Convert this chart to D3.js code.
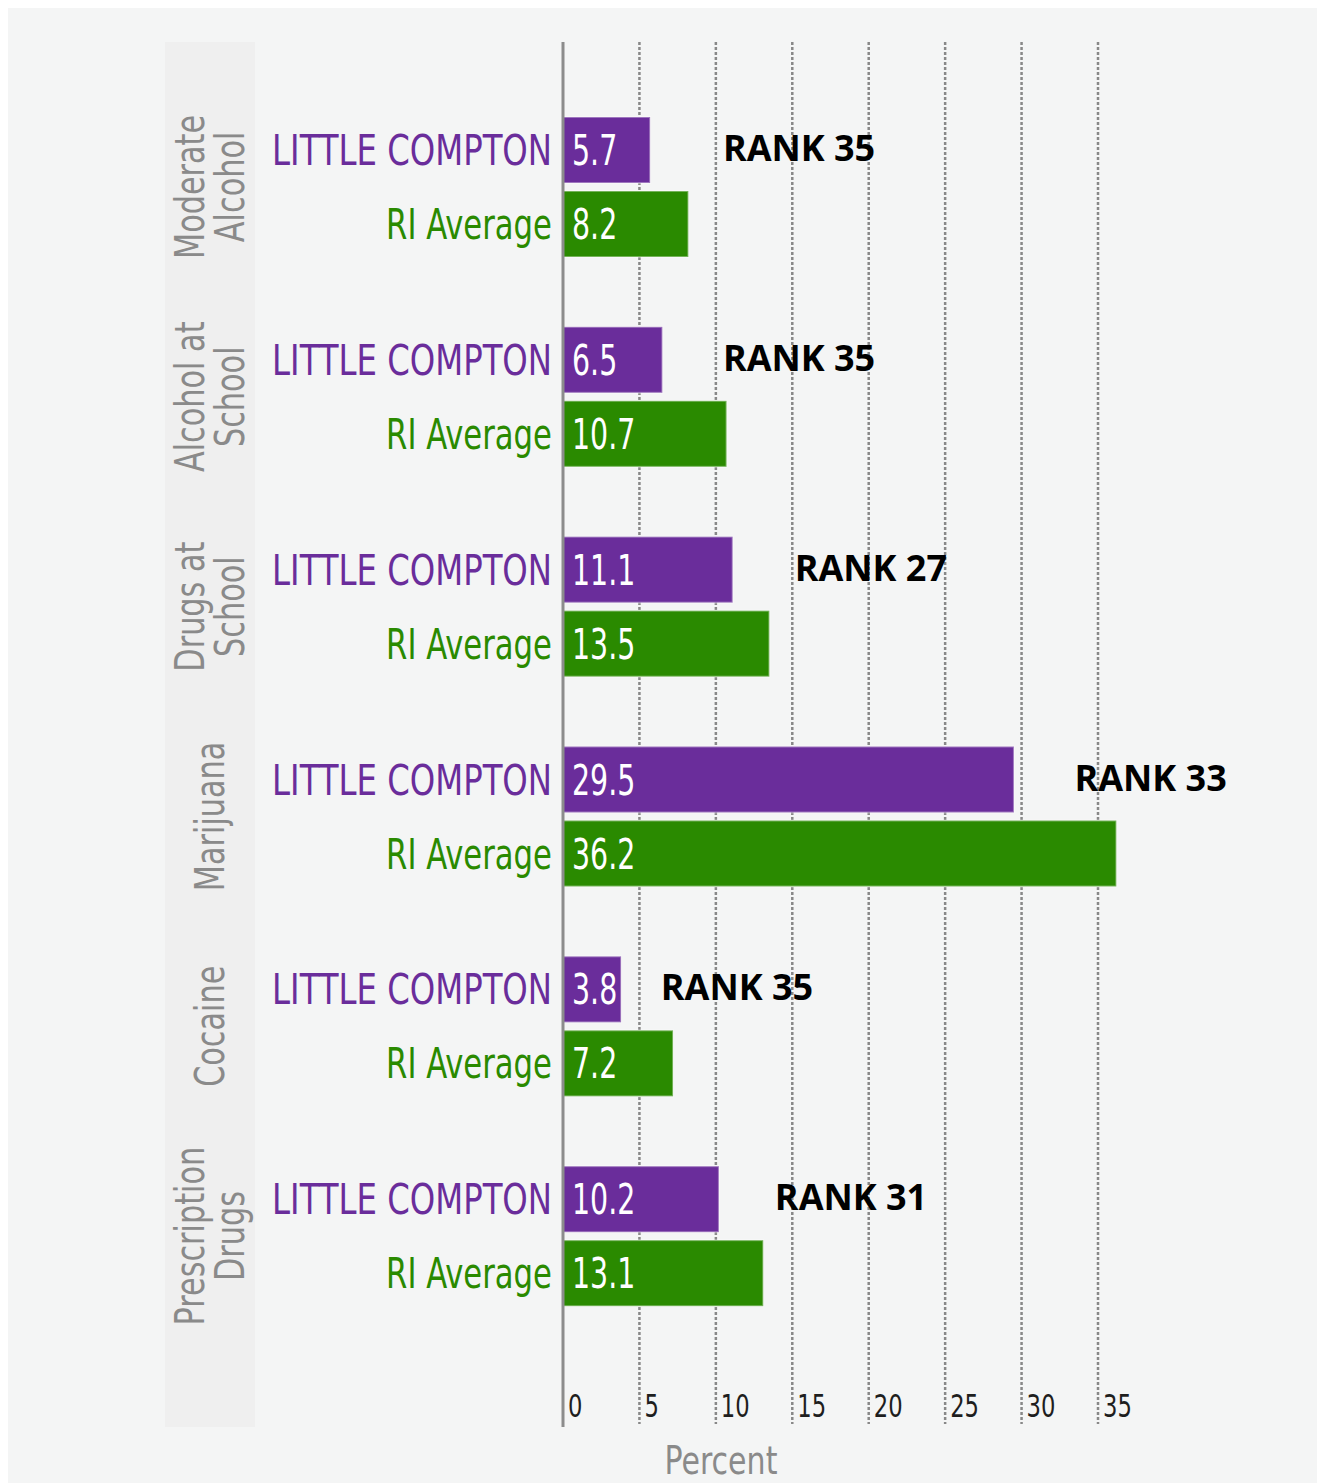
<!DOCTYPE html>
<html>
<head>
<meta charset="utf-8">
<script src="https://cdn.jsdelivr.net/npm/d3@7"></script>
<style>
  html, body { margin: 0; padding: 0; background: #ffffff; }
  svg { display: block; }
</style>
</head>
<body>
<script>
// ---- data ----
const categories = [
  ["Moderate", "Alcohol"],
  ["Alcohol at", "School"],
  ["Drugs at", "School"],
  ["Marijuana"],
  ["Cocaine"],
  ["Prescription", "Drugs"]
];
const seriesNames = ["LITTLE COMPTON", "RI Average"];
const littleCompton = [5.7, 6.5, 11.1, 29.5, 3.8, 10.2];
const riAverage = [8.2, 10.7, 13.5, 36.2, 7.2, 13.1];
const ranks = ["RANK 35", "RANK 35", "RANK 27", "RANK 33", "RANK 35", "RANK 31"];
// where each rank annotation starts, in axis (percent) units
const rankAnchor = [10.46, 10.46, 15.16, 33.46, 6.4, 13.86];
const tickValues = [0, 5, 10, 15, 20, 25, 30, 35];
const axisTitle = "Percent";

// ---- layout ----
const W = 1317, H = 1483;
const colors = { "LITTLE COMPTON": "#6a2d9b", "RI Average": "#2a8a00" };
const labelWidths = { "LITTLE COMPTON": 280, "RI Average": 166 };
const narrow = "'Liberation Sans Narrow', 'DejaVu Sans Condensed', 'Arial Narrow', sans-serif";

const svg = d3.select("body").append("svg").attr("width", W).attr("height", H);

function measure(txt, size) {
  const p = svg.append("text").attr("font-family", narrow).attr("font-size", size).text(txt);
  const w = p.node().getComputedTextLength();
  p.remove();
  return w;
}
// horizontal condensing factor so the narrow font matches the reference
const f = Math.min(1, 280 / measure("LITTLE COMPTON", 42));
const fit = {};
seriesNames.forEach(s => { fit[s] = Math.min(1, labelWidths[s] / measure(s, 42)); });

// panel background
svg.append("rect").attr("x", 8).attr("y", 8).attr("width", W - 8).attr("height", H - 8).attr("fill", "#f4f5f5");
// category band
svg.append("rect").attr("x", 165).attr("y", 42).attr("width", 90).attr("height", 1385).attr("fill", "#efefef");

const x = d3.scaleLinear().domain([0, 35]).range([563, 1098]);
const catKeys = categories.map((c, i) => i);
const y = d3.scaleBand().domain(catKeys).range([82, 1341]).paddingInner(0).paddingOuter(0);
const ySub = d3.scaleBand().domain(seriesNames).range([35, 175]).paddingInner(8 / 74).paddingOuter(0);

// gridlines (dotted)
svg.append("g").selectAll("line").data(tickValues.filter(t => t > 0)).join("line")
  .attr("x1", d => x(d)).attr("x2", d => x(d))
  .attr("y1", 42).attr("y2", 1424)
  .attr("stroke", "#888").attr("stroke-width", 2.5).attr("stroke-dasharray", "3,2");

// tick labels
svg.append("g").selectAll("text").data(tickValues).join("text")
  .attr("transform", d => `translate(${x(d) + 5},1417) scale(${f * 0.92},1)`)
  .attr("font-family", narrow).attr("font-size", 32).attr("fill", "#1e1e1e")
  .text(d => d);

// axis title
svg.append("text").attr("transform", `translate(721,1474) scale(${f},1)`).attr("text-anchor", "middle")
  .attr("font-family", narrow).attr("font-size", 39).attr("fill", "#8a8a8a").text(axisTitle);

// rows
const rows = [];
catKeys.forEach(i => {
  rows.push({ cat: i, series: seriesNames[0], value: littleCompton[i] });
  rows.push({ cat: i, series: seriesNames[1], value: riAverage[i] });
});

// bars
svg.append("g").selectAll("rect").data(rows).join("rect")
  .attr("x", x(0))
  .attr("y", d => y(d.cat) + ySub(d.series))
  .attr("width", d => x(d.value) - x(0))
  .attr("height", ySub.bandwidth())
  .attr("fill", d => colors[d.series])
  .attr("stroke", "rgba(255,255,255,0.35)").attr("stroke-width", 2);

// zero axis line
svg.append("line").attr("x1", x(0)).attr("x2", x(0)).attr("y1", 42).attr("y2", 1427)
  .attr("stroke", "#8c8c8c").attr("stroke-width", 3);

// series labels left of bars
svg.append("g").selectAll("text").data(rows).join("text")
  .attr("transform", d => `translate(${x(0) - 11},${y(d.cat) + ySub(d.series) + ySub.bandwidth() / 2 + 15}) scale(${fit[d.series]},1)`)
  .attr("text-anchor", "end")
  .attr("font-family", narrow).attr("font-size", 42)
  .attr("fill", d => colors[d.series])
  .text(d => d.series);

// value labels inside bars
svg.append("g").selectAll("text").data(rows).join("text")
  .attr("transform", d => `translate(${x(0) + 9},${y(d.cat) + ySub(d.series) + ySub.bandwidth() / 2 + 15}) scale(${f * 0.88},1)`)
  .attr("font-family", narrow).attr("font-size", 42)
  .attr("fill", "#ffffff")
  .text(d => d.value.toFixed(1));

// rank annotations
svg.append("g").selectAll("text").data(catKeys).join("text")
  .attr("x", i => x(rankAnchor[i]))
  .attr("y", i => y(i) + ySub(seriesNames[0]) + ySub.bandwidth() / 2 + 11)
  .attr("font-family", "'Open Sans', 'DejaVu Sans', sans-serif").attr("font-weight", "bold")
  .attr("font-size", 36).attr("fill", "#000")
  .text(i => ranks[i]);

// category labels (rotated)
const catG = svg.append("g").selectAll("text").data(catKeys).join("text")
  .attr("transform", i => `translate(210, ${y(i) + y.bandwidth() / 2}) rotate(-90) scale(${f * 0.96},1)`)
  .attr("text-anchor", "middle")
  .attr("font-family", narrow).attr("font-size", 41).attr("fill", "#8a8a8a");
catG.each(function(i) {
  const lines = categories[i];
  const n = lines.length;
  d3.select(this).selectAll("tspan").data(lines).join("tspan")
    .attr("x", 0)
    .attr("y", (d, k) => 14 + (k - (n - 1) / 2) * 40)
    .text(d => d);
});
</script>
</body>
</html>
